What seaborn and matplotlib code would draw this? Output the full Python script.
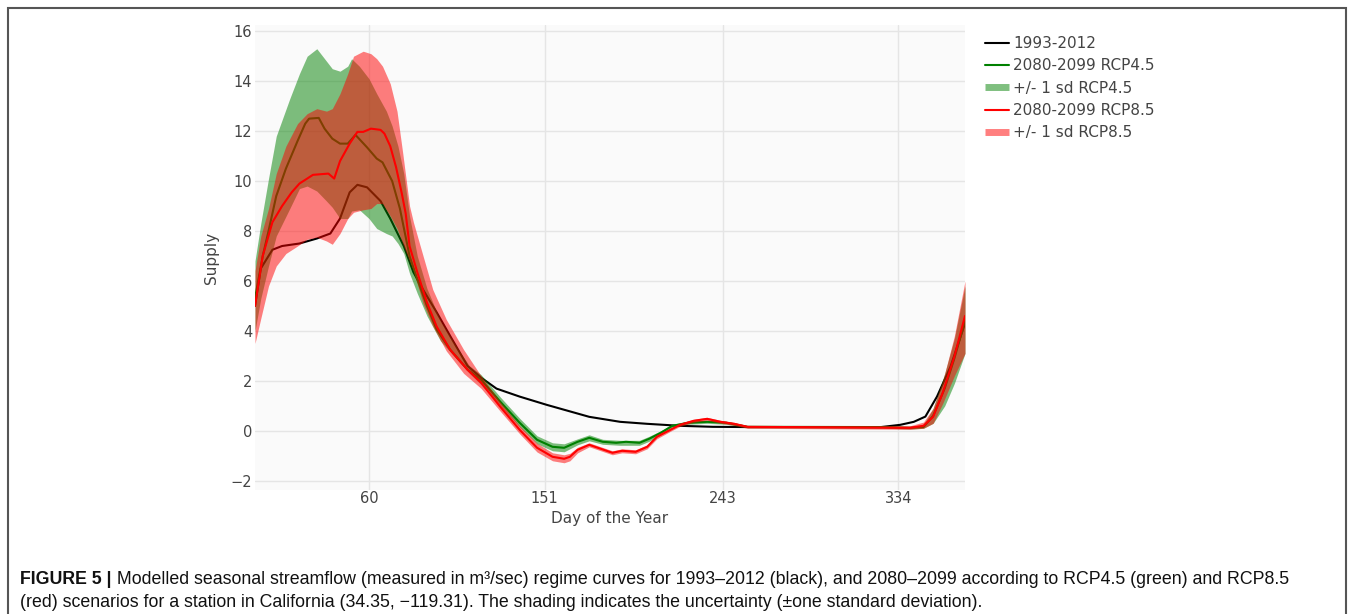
import numpy as np
import pandas as pd
import seaborn as sns
import matplotlib
matplotlib.use('Agg')
from matplotlib import pyplot as plt
from matplotlib.lines import Line2D
from matplotlib.patches import Rectangle
from matplotlib import font_manager

# 1993-2012 mean curve
black_days = [1, 4, 10, 15, 24, 33, 40, 45, 50, 54, 59, 66, 71, 78, 83, 88, 95, 102, 111, 118,
              126, 138, 152, 163, 174, 190, 204, 221, 238, 256, 325, 335, 342, 348, 354, 361, 368.5]
black_vals = [5.0, 6.5, 7.25, 7.4, 7.5, 7.7, 7.9, 8.5, 9.55, 9.85, 9.75, 9.2, 8.5, 7.4, 6.35, 5.65, 4.75, 3.8, 2.6, 2.13,
              1.69, 1.37, 1.04, 0.8, 0.56, 0.36, 0.28, 0.2, 0.16, 0.15, 0.15, 0.24, 0.36, 0.57, 1.37, 2.57, 4.3]

# 2080-2099 RCP4.5 mean curve
g_days = [1, 5, 8, 10, 12, 17, 23, 27, 29, 34, 37, 41, 45, 49, 53, 59, 64, 67, 72, 76,
          81, 85, 90, 95, 102, 111, 118, 128, 138, 147, 155, 161, 168, 174, 181, 188, 193, 200, 205, 211,
          217, 225, 235, 245, 256, 325, 340, 347, 352, 358, 363, 368.5]
g_vals = [5.3, 7.0, 8.0, 8.7, 9.4, 10.5, 11.6, 12.3, 12.5, 12.53, 12.1, 11.7, 11.5, 11.5, 11.85, 11.35, 10.9, 10.75, 10.0, 8.9,
          7.0, 6.07, 5.0, 4.06, 3.25, 2.45, 2.05, 1.16, 0.32, -0.36, -0.64, -0.68, -0.44, -0.28, -0.44, -0.48, -0.44, -0.48, -0.32, -0.08,
          0.2, 0.32, 0.36, 0.32, 0.16, 0.15, 0.12, 0.15, 0.6, 1.7, 2.9, 4.4]

# RCP4.5 +/- 1 sd
gb_days = [1, 4, 8, 12, 19, 24, 28, 33, 38, 41, 45, 49, 51, 55, 60, 64, 69, 72, 75, 78,
           81, 85, 90, 97, 105, 112, 118, 128, 138, 147, 155, 161, 168, 174, 181, 190, 200, 205, 211, 217,
           225, 235, 245, 256, 325, 340, 347, 352, 358, 363, 368.5]
g_lo = [4.0, 5.3, 6.6, 7.8, 8.9, 9.7, 9.8, 9.6, 9.2, 8.95, 8.5, 8.5, 8.8, 8.85, 8.5, 8.1, 7.9, 7.8, 7.5, 7.1,
        6.3, 5.5, 4.6, 3.6, 2.9, 2.3, 1.85, 1.0, 0.15, -0.52, -0.8, -0.84, -0.56, -0.4, -0.54, -0.58, -0.58, -0.42, -0.16, 0.14,
        0.26, 0.3, 0.26, 0.12, 0.11, 0.07, 0.1, 0.3, 1.0, 1.9, 3.1]
g_hi = [6.8, 8.3, 10.1, 11.8, 13.3, 14.3, 15.0, 15.3, 14.8, 14.5, 14.4, 14.6, 14.9, 14.6, 14.1, 13.5, 12.8, 12.2, 11.4, 10.3,
        8.6, 7.0, 5.7, 4.4, 3.4, 2.6, 2.25, 1.35, 0.5, -0.2, -0.48, -0.52, -0.32, -0.16, -0.34, -0.38, -0.38, -0.22, 0.0, 0.26,
        0.38, 0.42, 0.38, 0.2, 0.19, 0.17, 0.25, 0.9, 2.3, 3.7, 5.8]

# 2080-2099 RCP8.5 mean curve
r_days = [1, 5, 10, 15, 20, 24, 31, 39, 42, 45, 50, 54, 57, 61, 66, 68, 71, 74, 77, 79,
          81, 85, 90, 95, 102, 111, 118, 128, 138, 147, 155, 161, 164, 168, 174, 180, 186, 191, 198, 204,
          209, 216, 221, 228, 235, 242, 249, 256, 340, 347, 352, 357, 363, 368.5]
r_vals = [5.0, 7.0, 8.35, 9.0, 9.55, 9.9, 10.25, 10.3, 10.1, 10.8, 11.5, 11.97, 11.97, 12.1, 12.05, 11.9, 11.4, 10.56, 9.5, 8.7,
          7.4, 6.35, 5.14, 4.18, 3.25, 2.45, 1.93, 0.96, 0.04, -0.68, -1.04, -1.12, -1.04, -0.76, -0.56, -0.72, -0.88, -0.8, -0.84, -0.64,
          -0.24, 0.04, 0.24, 0.4, 0.48, 0.36, 0.28, 0.16, 0.12, 0.2, 0.56, 1.53, 2.97, 4.6]

# RCP8.5 +/- 1 sd
rb_days = [1, 4, 8, 12, 17, 23, 28, 33, 38, 41, 45, 49, 52, 57, 61, 64, 67, 71, 74.5, 77.5,
           81, 83, 88, 93, 100, 109, 118, 128, 138, 147, 155, 161, 164, 168, 174, 180, 186, 191, 198, 204,
           209, 216, 221, 228, 235, 242, 249, 256, 340, 347, 352, 357, 363, 368.5]
r_lo = [3.5, 4.5, 5.8, 6.6, 7.1, 7.4, 7.67, 7.75, 7.6, 7.47, 7.9, 8.5, 8.75, 8.85, 8.9, 9.1, 9.1, 8.6, 8.1, 7.5,
        6.8, 6.4, 5.1, 4.2, 3.2, 2.3, 1.7, 0.78, -0.12, -0.85, -1.2, -1.28, -1.2, -0.88, -0.64, -0.8, -0.96, -0.88, -0.92, -0.72,
        -0.32, -0.02, 0.18, 0.34, 0.42, 0.3, 0.22, 0.1, 0.06, 0.1, 0.3, 1.1, 2.2, 3.1]
r_hi = [6.4, 7.8, 8.9, 10.3, 11.4, 12.3, 12.7, 12.9, 12.8, 12.9, 13.5, 14.3, 15.0, 15.2, 15.1, 14.9, 14.6, 13.9, 12.8, 11.1,
        9.0, 8.35, 7.0, 5.66, 4.46, 3.25, 2.2, 1.15, 0.2, -0.5, -0.88, -0.96, -0.9, -0.66, -0.48, -0.64, -0.8, -0.72, -0.76, -0.56,
        -0.16, 0.1, 0.3, 0.46, 0.54, 0.42, 0.34, 0.2, 0.2, 0.35, 0.9, 2.0, 3.8, 6.0]

x_ticks = [60, 151, 243, 334]
y_ticks = list(range(-2, 17, 2))
legend_labels = ['1993-2012', '2080-2099 RCP4.5', '+/- 1 sd RCP4.5', '2080-2099 RCP8.5', '+/- 1 sd RCP8.5']

GREEN = '#008000'
RED = '#ff0000'

sns.set_style('white')
plt.rcParams['font.family'] = ['DejaVu Sans']

W, H = 1354, 614
fig = plt.figure(figsize=(W / 100, H / 100), dpi=100)
ax = fig.add_axes([255 / W, 1 - 490 / H, 710 / W, 465 / H])
ax.set_facecolor('#fafafa')

sns.lineplot(x=black_days, y=black_vals, ax=ax, color='black', lw=1.5, zorder=2)
sns.lineplot(x=g_days, y=g_vals, ax=ax, color=GREEN, lw=1.5, zorder=3)
ax.fill_between(gb_days, g_lo, g_hi, color=GREEN, alpha=0.5, lw=0, zorder=4)
sns.lineplot(x=r_days, y=r_vals, ax=ax, color=RED, lw=1.5, zorder=5)
ax.fill_between(rb_days, r_lo, r_hi, color=RED, alpha=0.5, lw=0, zorder=6)

ax.set_xlim(1, 368.5)
ax.set_ylim(-2.37, 16.25)
ax.set_xticks(x_ticks)
ax.set_yticks(y_ticks)
ax.grid(True, color='#e5e5e5', lw=1)
ax.set_axisbelow(True)
for s in ax.spines.values():
    s.set_visible(False)
ax.tick_params(length=0, labelsize=10.5, labelcolor='#444444')
ax.tick_params(axis='x', pad=1)
ax.tick_params(axis='y', pad=2)
ax.set_xlabel('Day of the Year', fontsize=11, color='#444444', labelpad=3)
ax.set_ylabel('Supply', fontsize=11, color='#444444', labelpad=8)

handles = [Line2D([], [], color='black', lw=1.5),
           Line2D([], [], color=GREEN, lw=1.5),
           Line2D([], [], color=GREEN, lw=5, alpha=0.5, solid_capstyle='butt'),
           Line2D([], [], color=RED, lw=1.5),
           Line2D([], [], color=RED, lw=5, alpha=0.5, solid_capstyle='butt')]
fig.legend(handles, legend_labels, loc='upper left', bbox_to_anchor=(985 / W, 1 - 36 / H),
           frameon=False, fontsize=11, handlelength=1.57, handletextpad=0.26,
           labelspacing=0.48, borderpad=0, borderaxespad=0, labelcolor='#444444')

# figure frame
fig.add_artist(Rectangle((8 / W, -0.1), (1346 - 8) / W, 1.1 - 8 / H, transform=fig.transFigure,
                         fill=False, ec='#555555', lw=1.5))

# caption
names = {f.name for f in font_manager.fontManager.ttflist}
cap_font = 'Liberation Sans Narrow' if 'Liberation Sans Narrow' in names else 'Liberation Sans'
cap_a = 'FIGURE 5 |'
cap_b = (' Modelled seasonal streamflow (measured in m\u00b3/sec) regime curves for 1993\u20132012 (black), '
         'and 2080\u20132099 according to RCP4.5 (green) and RCP8.5')
cap_c = '(red) scenarios for a station in California (34.35, \u2212119.31). The shading indicates the uncertainty (\u00b1one standard deviation).'

fig.canvas.draw()
r = fig.canvas.get_renderer()
size = 12.8
t1 = fig.text(20 / W, 1 - 584 / H, cap_a, family=cap_font, fontweight='bold', size=size, va='baseline', color='#111111')
t2 = fig.text(0, 1 - 584 / H, cap_b, family=cap_font, size=size, va='baseline', color='#111111')
t3 = fig.text(20 / W, 1 - 607 / H, cap_c, family=cap_font, size=size, va='baseline', color='#111111')
for _ in range(3):
    b1 = t1.get_window_extent(r)
    t2.set_x(b1.x1 / W)
    b2 = t2.get_window_extent(r)
    width = b2.x1 - 20
    if width <= 1272:
        break
    size = size * 1270 / width
    for t in (t1, t2, t3):
        t.set_size(size)

fig.savefig('out.png', dpi=100)
